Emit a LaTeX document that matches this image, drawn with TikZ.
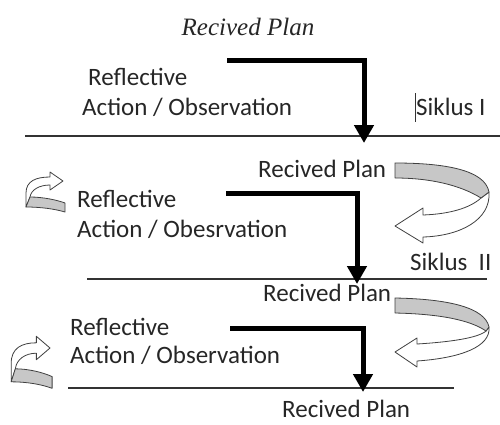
\documentclass[tikz,border=0pt]{standalone}
\usepackage{fontspec}
\setmainfont{Carlito}
\newfontfamily\serifit{Liberation Serif}
\usetikzlibrary{arrows.meta}
\begin{document}
\begin{tikzpicture}[x=1pt,y=-1pt,
  lbl/.style={anchor=base west, inner sep=0pt, text=black!85, font=\fontsize{25}{30}\selectfont},
  rule/.style={line width=1.2pt, draw=black!80},
  bentarrow/.style={line width=5pt, line join=miter, -{Triangle[width=19pt,length=18pt]}},
  ribbon/.style={draw=black!75, line width=0.8pt, line join=round, fill=white},
  band/.style={draw=black!75, line width=0.8pt, line join=round, fill=black!22}]
\useasboundingbox (0,0) rectangle (500,424);

% ---- texts ----
\node[anchor=base, inner sep=0pt, text=black!85, font=\fontsize{25}{30}\selectfont\serifit\itshape] (top) at (248,35) {Recived Plan};
\node[lbl] (r1) at (88,85) {Reflective};
\node[lbl] (a1) at (82,115) {Action / Observation};
\node[lbl] (s1) at (416,115) {Siklus I};
\draw[line width=0.7pt, black!80] (415,93) -- (415,122);

\node[lbl] (p2) at (258,177) {Recived Plan};
\node[lbl] (r2) at (77,207) {Reflective};
\node[lbl] (a2) at (77,237) {Action / Obesrvation};
\node[lbl] (s2) at (410,270) {Siklus\ \ II};

\node[lbl] (p3) at (263,301) {Recived Plan};
\node[lbl] (r3) at (70,335) {Reflective};
\node[lbl] (a3) at (70,363) {Action / Observation};

\node[lbl] (p4) at (282,417) {Recived Plan};

% ---- rules ----
\coordinate (l1a) at (25,136);  \coordinate (l1b) at (500,136);
\coordinate (l2a) at (87,279);  \coordinate (l2b) at (487,279);
\coordinate (l3a) at (68,388);  \coordinate (l3b) at (454,388);
\draw[rule] (l1a) -- (l1b);
\draw[rule] (l2a) -- (l2b);
\draw[rule] (l3a) -- (l3b);

% ---- bent arrows ----
\coordinate (b1s) at (227,60);  \coordinate (b1t) at (364,143);
\coordinate (b2s) at (226,193); \coordinate (b2t) at (357,284);
\coordinate (b3s) at (230,328); \coordinate (b3t) at (363,392);
\draw[bentarrow] (b1s) -| (b1t);
\draw[bentarrow] (b2s) -| (b2t);
\draw[bentarrow] (b3s) -| (b3t);

% ---- right ribbon arrows ----
\draw[ribbon] (489,192) .. controls (491,220) and (460,236) .. (423,237) -- (423,243) -- (395,226) -- (423,208) -- (423,215) .. controls (450,214) and (470,208) .. (481,198) -- cycle;
\draw[band] (395,163) .. controls (445,163) and (485,170) .. (489,192) -- (481,198) .. controls (460,185) and (430,178) .. (395,178) -- cycle;

\draw[ribbon] (489,327) .. controls (491,347) and (460,358) .. (417,361) -- (417,367) -- (395,352) -- (417,338) -- (417,344) .. controls (450,342) and (478,338) .. (486,331) -- cycle;
\draw[band] (395,298) .. controls (450,299) and (485,308) .. (489,327) -- (486,331) .. controls (470,320) and (440,314) .. (395,313) -- cycle;

% ---- left small loops ----
\begin{scope}[shift={(63,181)}]
\draw[ribbon] (-37,26) -- (-37,12) .. controls (-37,0) and (-27,-4) .. (-13,-4) -- (-13,-9) -- (0,0) -- (-13,9) -- (-13,4) .. controls (-24,4) and (-32,9) .. (-33,16) -- cycle;
\draw[band] (-33,16) .. controls (-20,16) and (-6,19) .. (2,22) -- (2,31) .. controls (-8,28) and (-22,26) .. (-37,26) -- cycle;
\end{scope}
\begin{scope}[shift={(50,348)}, xscale=1.05, yscale=1.3]
\draw[ribbon] (-37,26) -- (-37,12) .. controls (-37,0) and (-27,-4) .. (-13,-4) -- (-13,-9) -- (0,0) -- (-13,9) -- (-13,4) .. controls (-24,4) and (-32,9) .. (-33,16) -- cycle;
\draw[band] (-33,16) .. controls (-20,16) and (-6,19) .. (2,22) -- (2,31) .. controls (-8,28) and (-22,26) .. (-37,26) -- cycle;
\end{scope}
\end{tikzpicture}
\end{document}
